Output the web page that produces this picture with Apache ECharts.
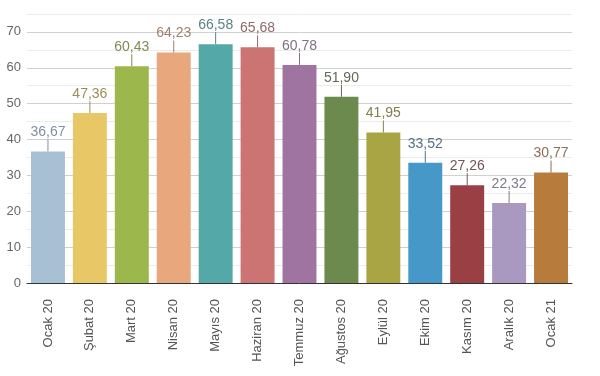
<!DOCTYPE html>
<html lang="tr">
<head>
<meta charset="UTF-8">
<title>Aylık değerler</title>
<script src="https://cdn.jsdelivr.net/npm/echarts@6/dist/echarts.min.js"></script>
<style>
  html, body { margin: 0; padding: 0; background: #fff; }
  #main { width: 600px; height: 376px; }
</style>
</head>
<body>
<div id="main"></div>
<script>
// veriler
var months = ['Ocak 20', 'Şubat 20', 'Mart 20', 'Nisan 20', 'Mayıs 20', 'Haziran 20', 'Temmuz 20',
  'Ağustos 20', 'Eylül 20', 'Ekim 20', 'Kasım 20', 'Aralık 20', 'Ocak 21'];
var values = [36.67, 47.36, 60.43, 64.23, 66.58, 65.68, 60.78, 51.90, 41.95, 33.52, 27.26, 22.32, 30.77];

// renkler
var barColors = ['#a8c0d4', '#e8c866', '#9cb74b', '#e8a77c', '#55a8a8', '#cc7373', '#a074a0',
  '#6c8a4e', '#a9a544', '#4598c8', '#9a3f44', '#a999c0', '#b77b3c'];
var labelColors = ['#7f90a0', '#a08c58', '#7f8c50', '#a0826c', '#5a8384', '#906a6a', '#807080',
  '#606c54', '#82804c', '#56708a', '#745458', '#80788c', '#8a7054'];

var chart = echarts.init(document.getElementById('main'));

var items = values.map(function (v, i) {
  return {
    value: v,
    itemStyle: { color: barColors[i] },
    label: { color: labelColors[i] },
    labelLine: { lineStyle: { color: labelColors[i] } }
  };
});

chart.setOption({
  animation: false,
  textStyle: { fontFamily: 'Liberation Sans, Arial, sans-serif' },
  grid: { left: 27, right: 28, top: -4, bottom: 93, outerBoundsMode: 'none', containLabel: false },
  xAxis: {
    type: 'category',
    data: months,
    axisLine: { lineStyle: { color: '#333', width: 1 } },
    axisTick: { show: false },
    axisLabel: { rotate: 90, color: '#555', fontSize: 13, margin: 16 }
  },
  yAxis: {
    type: 'value',
    min: 0,
    max: 80,
    interval: 10,
    axisLine: { show: false },
    axisTick: { show: false },
    axisLabel: { color: '#666', fontSize: 13, margin: 6 },
    splitLine: { lineStyle: { color: '#d0d0d0' } },
    minorTick: { show: false, splitNumber: 2 },
    minorSplitLine: { show: true, lineStyle: { color: '#ececec' } }
  },
  series: [{
    type: 'bar',
    data: items,
    barCategoryGap: '19%',
    label: {
      show: true,
      position: 'top',
      distance: 2,
      fontSize: 14,
      formatter: function (p) { return p.value.toFixed(2).replace('.', ','); }
    },
    labelLayout: { dy: -10 },
    labelLine: { show: true, lineStyle: { width: 1 } }
  }]
});
</script>
</body>
</html>
